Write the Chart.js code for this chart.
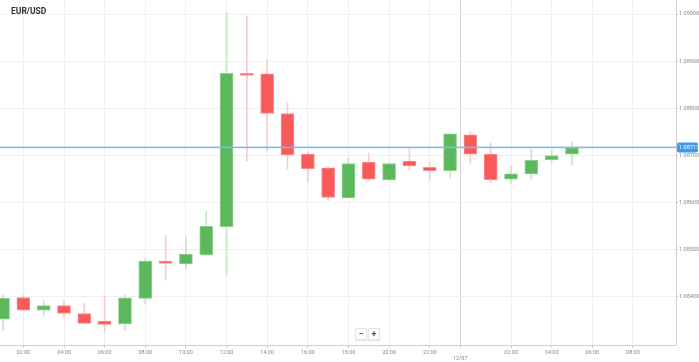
<!DOCTYPE html>
<html>
<head>
<meta charset="utf-8">
<script src="https://cdn.jsdelivr.net/npm/chart.js@4.4.0/dist/chart.umd.min.js"></script>
<style>
  body { margin: 0; background: #fff; }
  #wrap { position: relative; width: 699px; height: 362px; }
  #titulo { position: absolute; left: 11px; top: 6px; font: bold 8.5px Roboto, sans-serif; color: #333; }
  #zoom { position: absolute; left: 355px; top: 328px; display: flex; gap: 1px; }
  #zoom span { width: 10px; height: 10px; background: #fff; border: 1px solid #e4e4e4; box-shadow: 0 1px 1px rgba(0,0,0,0.1);
    font: bold 9px Roboto, sans-serif; color: #555; text-align: center; line-height: 10px; }
</style>
</head>
<body>
<div id="wrap">
  <canvas id="grafico"></canvas>
  <div id="titulo">EUR/USD</div>
  <div id="zoom"><span>−</span><span>+</span></div>
</div>
<script>
// hora de cada vela (24 = 00:00 do dia 12/07)
const horas = [1, 2, 3, 4, 5, 6, 7, 8, 9, 10, 11, 12, 13, 14, 15, 16, 17, 18, 19, 20, 21, 22, 23, 24, 25, 26, 27, 28, 29]
const abertura = [1.08353, 1.08399, 1.08372, 1.08382, 1.08365, 1.08349, 1.08343, 1.08397, 1.08476, 1.08470, 1.08489, 1.08549, 1.08874, 1.08873, 1.08789, 1.08703, 1.08674, 1.08610, 1.08686, 1.08648, 1.08688, 1.08675, 1.08668, 1.08744, 1.08703, 1.08650, 1.08661, 1.08691, 1.08703]
const maxima = [1.08404, 1.08404, 1.08392, 1.08392, 1.08387, 1.08401, 1.08404, 1.08482, 1.08531, 1.08527, 1.08582, 1.09003, 1.08996, 1.08904, 1.08812, 1.08708, 1.08676, 1.08694, 1.08705, 1.08685, 1.08714, 1.08687, 1.08748, 1.08751, 1.08726, 1.08678, 1.08713, 1.08712, 1.08728]
const minima = [1.08329, 1.08371, 1.08359, 1.08355, 1.08344, 1.08325, 1.08329, 1.08385, 1.08436, 1.08459, 1.08488, 1.08447, 1.08689, 1.08710, 1.08671, 1.08644, 1.08604, 1.08610, 1.08647, 1.08647, 1.08669, 1.08647, 1.08653, 1.08682, 1.08642, 1.08639, 1.08650, 1.08685, 1.08680]
const fechamento = [1.08397, 1.08372, 1.08382, 1.08365, 1.08344, 1.08342, 1.08398, 1.08476, 1.08471, 1.08491, 1.08550, 1.08874, 1.08870, 1.08789, 1.08701, 1.08672, 1.08611, 1.08683, 1.08650, 1.08683, 1.08678, 1.08668, 1.08746, 1.08703, 1.08649, 1.08661, 1.08690, 1.08700, 1.08717]

const xTicks = [2, 4, 6, 8, 10, 12, 14, 16, 18, 20, 22, 23.5, 26, 28, 30, 32]
const xLabels = ['02:00', '04:00', '06:00', '08:00', '10:00', '12:00', '14:00', '16:00', '18:00', '20:00', '22:00', '12/07', '02:00', '04:00', '06:00', '08:00']
const yTicks = [1.084, 1.085, 1.086, 1.087, 1.088, 1.089, 1.090]
const precoAtual = 1.08717

const verde = '#5cb85c'
const vermelho = '#f85a5a'

const sobe = abertura.map((o, i) => fechamento[i] >= o)

const corpos = horas.map((h, i) => ({ x: h, y: [abertura[i], fechamento[i]] }))
const pavios = horas.map((h, i) => ({ x: h, y: [minima[i], maxima[i]] }))

const linhaPreco = {
  id: 'linhaPreco',
  afterDatasetsDraw(chart) {
    const { ctx, chartArea } = chart
    const y = Math.round(chart.scales.y.getPixelForValue(precoAtual))
    ctx.save()
    ctx.fillStyle = '#7db9ea'
    ctx.fillRect(chartArea.left, y - 0.4, chartArea.right - chartArea.left, 1.6)
    ctx.fillStyle = '#3d9be9'
    ctx.beginPath()
    ctx.roundRect(chartArea.right + 1, y - 4.5, 21, 10, 2)
    ctx.fill()
    ctx.fillStyle = '#fff'
    ctx.font = '5.5px Roboto, sans-serif'
    ctx.textBaseline = 'middle'
    ctx.fillText(precoAtual.toFixed(5), chartArea.right + 3, y + 1)
    ctx.restore()
  }
}

new Chart(document.getElementById('grafico'), {
  type: 'bar',
  data: {
    datasets: [{
      label: 'corpo',
      data: corpos,
      grouped: false,
      order: 0,
      barThickness: 13,
      backgroundColor: sobe.map(s => s ? verde : vermelho),
      borderColor: sobe.map(s => s ? '#8fd08f' : '#fb8f8f'),
      borderWidth: 1,
      borderSkipped: false
    }, {
      label: 'pavio',
      data: pavios,
      grouped: false,
      order: 1,
      barThickness: 1,
      backgroundColor: sobe.map(s => s ? '#c6e7c6' : '#fccaca')
    }]
  },
  options: {
    responsive: true,
    maintainAspectRatio: false,
    animation: false,
    layout: { padding: 0 },
    plugins: {
      legend: { display: false },
      tooltip: { enabled: false }
    },
    scales: {
      x: {
        type: 'linear',
        offset: false,
        min: 0.85,
        max: 34.12,
        afterBuildTicks: scale => { scale.ticks = xTicks.map(v => ({ value: v })) },
        afterFit: scale => { scale.height = 17; scale.paddingLeft = 0; scale.paddingRight = 0 },
        ticks: {
          autoSkip: false,
          maxRotation: 0,
          padding: 1,
          color: '#888',
          font: { size: 5.5, family: 'Roboto' },
          callback: (v, i) => xLabels[i] === '12/07' ? ['', '12/07'] : xLabels[i]
        },
        grid: {
          offset: false,
          color: ctx => ctx.tick && ctx.tick.value === 23.5 ? '#d0d0d0' : '#f0f0f0',
          tickLength: 3,
          tickColor: '#ccc'
        },
        border: { color: '#cfcfcf' }
      },
      y: {
        position: 'right',
        min: 1.082982,
        max: 1.090297,
        afterBuildTicks: scale => { scale.ticks = yTicks.map(v => ({ value: v })) },
        afterFit: scale => { scale.width = 23; scale.paddingTop = 0; scale.paddingBottom = 0 },
        ticks: {
          padding: 1,
          color: '#888',
          font: { size: 5.5, family: 'Roboto' },
          callback: v => v.toFixed(5)
        },
        grid: {
          color: '#f0f0f0',
          tickLength: 2,
          tickColor: '#bbb'
        },
        border: { color: '#cfcfcf' }
      }
    }
  },
  plugins: [linhaPreco]
})
</script>
</body>
</html>
